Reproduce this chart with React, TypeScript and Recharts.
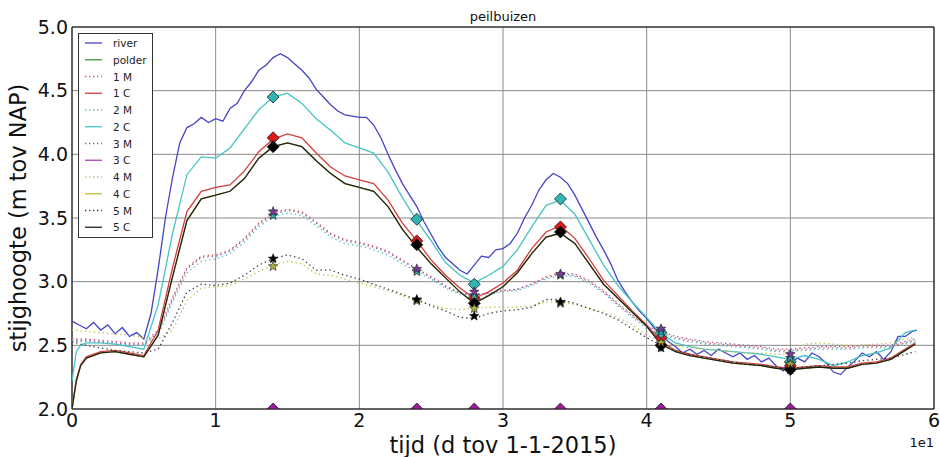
import React from 'react';
import { ComposedChart, Line, Scatter, XAxis, YAxis, CartesianGrid, ReferenceArea } from 'recharts';

// time axis (days since 1-1-2015) for the smooth series
const days = [
  0, 0.3, 0.6, 1, 2, 3, 4, 5, 6, 7,
  8, 9, 10, 11, 12, 13, 14, 15, 16, 17,
  18, 19, 20, 21, 22, 23, 24, 25, 26, 27,
  28, 29, 30, 31, 32, 33, 34, 35, 36, 37,
  38, 39, 40, 41, 42, 43, 44, 45, 46, 47,
  48, 49, 50, 51, 52, 53, 54, 55, 56, 57,
  58, 58.7,
];

// river is noisy, sampled every half day
const riverDays = [
  0, 0.5, 1, 1.5, 2, 2.5, 3, 3.5, 4, 4.5,
  5, 5.5, 6, 6.5, 7, 7.5, 8, 8.5, 9, 9.5,
  10, 10.5, 11, 11.5, 12, 12.5, 13, 13.5, 14, 14.5,
  15, 15.5, 16, 16.5, 17, 17.5, 18, 18.5, 19, 19.5,
  20, 20.5, 21, 21.5, 22, 22.5, 23, 23.5, 24, 24.5,
  25, 25.5, 26, 26.5, 27, 27.5, 28, 28.5, 29, 29.5,
  30, 30.5, 31, 31.5, 32, 32.5, 33, 33.5, 34, 34.5,
  35, 35.5, 36, 36.5, 37, 37.5, 38, 38.5, 39, 39.5,
  40, 40.5, 41, 41.5, 42, 42.5, 43, 43.5, 44, 44.5,
  45, 45.5, 46, 46.5, 47, 47.5, 48, 48.5, 49, 49.5,
  50, 50.5, 51, 51.5, 52, 52.5, 53, 53.5, 54, 54.5,
  55, 55.5, 56, 56.5, 57, 57.5, 58, 58.5, 58.8,
];

const river = [
  2.69, 2.66, 2.63, 2.68, 2.62, 2.66, 2.59, 2.64, 2.57, 2.6,
  2.55, 2.75, 3.1, 3.5, 3.82, 4.09, 4.21, 4.24, 4.29, 4.25,
  4.28, 4.26, 4.36, 4.4, 4.5, 4.57, 4.66, 4.7, 4.76, 4.79,
  4.76, 4.71, 4.66, 4.6, 4.51, 4.45, 4.39, 4.34, 4.31, 4.3,
  4.29, 4.29, 4.23, 4.13, 4.0, 3.88, 3.77, 3.68, 3.59, 3.47,
  3.37, 3.27, 3.19, 3.14, 3.09, 3.06, 3.13, 3.2, 3.19, 3.25,
  3.26, 3.3, 3.38, 3.5, 3.6, 3.72, 3.8, 3.85, 3.82, 3.77,
  3.68, 3.57, 3.46, 3.35, 3.25, 3.14, 3.01, 2.92, 2.84, 2.77,
  2.71, 2.64, 2.59, 2.53, 2.49, 2.44, 2.47, 2.43, 2.46, 2.42,
  2.47, 2.44, 2.41, 2.44, 2.39, 2.42, 2.37, 2.4, 2.34, 2.3,
  2.36, 2.4, 2.37, 2.44, 2.41, 2.36, 2.29, 2.27, 2.33, 2.38,
  2.44, 2.41, 2.45, 2.39, 2.45, 2.57, 2.57, 2.61, 2.62,
];

const c1 = [
  2.0, 2.23, 2.35, 2.41, 2.45, 2.46, 2.44, 2.42, 2.62, 3.11,
  3.55, 3.71, 3.74, 3.76, 3.87, 4.02, 4.12, 4.16, 4.13, 4.01,
  3.9, 3.83, 3.8, 3.77, 3.64, 3.46, 3.32, 3.17, 3.05, 2.95,
  2.87, 2.92, 2.99, 3.09, 3.26, 3.39, 3.44, 3.34, 3.18, 3.01,
  2.89, 2.77, 2.66, 2.53, 2.46, 2.43, 2.41, 2.39, 2.37, 2.36,
  2.35, 2.33, 2.32, 2.33, 2.34, 2.33, 2.33, 2.36, 2.37, 2.4,
  2.47, 2.52,
];

const c2 = [
  2.22, 2.45, 2.5, 2.52, 2.52, 2.51, 2.49, 2.47, 2.82, 3.38,
  3.84, 3.98, 3.97, 4.05, 4.2, 4.35, 4.45, 4.48, 4.4, 4.28,
  4.19, 4.09, 4.05, 4.01, 3.86, 3.66, 3.48, 3.32, 3.15, 3.05,
  2.99, 3.05, 3.12, 3.25, 3.43, 3.6, 3.64, 3.53, 3.33, 3.13,
  2.97, 2.84, 2.72, 2.59, 2.52, 2.49, 2.47, 2.46, 2.45, 2.44,
  2.43, 2.41, 2.39, 2.42, 2.39, 2.34, 2.37, 2.42, 2.44, 2.48,
  2.6, 2.62,
];

const c5 = [
  2.0, 2.22, 2.34, 2.4, 2.44, 2.45, 2.43, 2.41, 2.58, 3.04,
  3.48, 3.65, 3.68, 3.71, 3.81, 3.97, 4.06, 4.09, 4.06, 3.95,
  3.85, 3.77, 3.74, 3.71, 3.59, 3.41, 3.27, 3.14, 3.03, 2.92,
  2.83, 2.89, 2.96, 3.07, 3.22, 3.35, 3.38, 3.3, 3.14, 2.98,
  2.87, 2.76, 2.65, 2.51, 2.45, 2.42, 2.4, 2.38, 2.36, 2.35,
  2.34, 2.32, 2.31, 2.32, 2.33, 2.32, 2.32, 2.35, 2.36, 2.39,
  2.46, 2.51,
];

// 4 C runs under 5 C in the picture
const c4 = c5;

const m1 = [
  2.56, 2.55, 2.55, 2.55, 2.54, 2.53, 2.52, 2.52, 2.62, 2.88,
  3.11, 3.2, 3.21, 3.25, 3.34, 3.46, 3.54, 3.57, 3.55, 3.47,
  3.38, 3.33, 3.31, 3.28, 3.24, 3.17, 3.1, 3.04, 2.97, 2.91,
  2.89, 2.91, 2.93, 2.94, 2.98, 3.04, 3.07, 3.06, 3.01, 2.93,
  2.83, 2.74, 2.65, 2.6, 2.56, 2.54, 2.52, 2.51, 2.5, 2.49,
  2.48, 2.46, 2.46, 2.47, 2.48, 2.48, 2.48, 2.49, 2.49, 2.49,
  2.52, 2.54,
];

const m2 = [
  2.54, 2.53, 2.53, 2.53, 2.52, 2.51, 2.5, 2.5, 2.58, 2.84,
  3.07, 3.16, 3.18, 3.22, 3.31, 3.43, 3.51, 3.54, 3.52, 3.44,
  3.35, 3.3, 3.28, 3.25, 3.21, 3.14, 3.08, 3.02, 2.95, 2.9,
  2.88, 2.9, 2.92, 2.93, 2.97, 3.02, 3.05, 3.04, 2.99, 2.91,
  2.81, 2.72, 2.63, 2.59, 2.55, 2.53, 2.51, 2.5, 2.49, 2.48,
  2.47, 2.45, 2.45, 2.46, 2.47, 2.47, 2.47, 2.48, 2.48, 2.48,
  2.51, 2.53,
];

const m3 = [
  2.55, 2.54, 2.54, 2.54, 2.53, 2.52, 2.51, 2.51, 2.6, 2.86,
  3.1, 3.19, 3.2, 3.24, 3.33, 3.45, 3.53, 3.56, 3.54, 3.46,
  3.37, 3.32, 3.3, 3.27, 3.23, 3.16, 3.1, 3.03, 2.96, 2.91,
  2.9, 2.91, 2.93, 2.94, 2.98, 3.03, 3.06, 3.05, 3.0, 2.92,
  2.82, 2.73, 2.65, 2.61, 2.57, 2.55, 2.53, 2.52, 2.51, 2.5,
  2.49, 2.47, 2.47, 2.48, 2.49, 2.49, 2.49, 2.5, 2.5, 2.5,
  2.53, 2.55,
];

const m4 = [
  2.62, 2.62, 2.61, 2.61, 2.6, 2.59, 2.58, 2.56, 2.55, 2.62,
  2.85, 2.95, 2.96, 2.97, 3.02, 3.08, 3.13, 3.16, 3.14, 3.06,
  3.05, 3.02, 2.99, 2.96, 2.93, 2.89, 2.85, 2.82, 2.79, 2.78,
  2.79, 2.8, 2.8, 2.8, 2.81, 2.84, 2.84, 2.82, 2.79, 2.76,
  2.72, 2.66, 2.58, 2.53, 2.5, 2.48, 2.47, 2.46, 2.45, 2.44,
  2.44, 2.43, 2.43, 2.51, 2.52, 2.51, 2.5, 2.5, 2.51, 2.52,
  2.55, 2.56,
];

const m5 = [
  2.53, 2.52, 2.51, 2.5, 2.48, 2.46, 2.45, 2.44, 2.47, 2.68,
  2.92, 2.98, 2.97, 2.99, 3.05, 3.13, 3.18, 3.21, 3.18, 3.09,
  3.09, 3.05, 3.02, 2.98, 2.94, 2.9, 2.86, 2.81, 2.77, 2.72,
  2.71, 2.75, 2.77, 2.78, 2.8, 2.86, 2.86, 2.83, 2.79, 2.75,
  2.7, 2.63, 2.56, 2.5, 2.46, 2.43, 2.41, 2.39, 2.37, 2.35,
  2.34, 2.33, 2.32, 2.33, 2.34, 2.35, 2.36, 2.38, 2.39, 2.4,
  2.43, 2.45,
];

// measurements (piezometer readings)
const measDays = [14, 24, 28, 34, 41, 50];
const meas1C = [4.13, 3.32, 2.87, 3.43, 2.56, 2.34];
const meas2C = [4.45, 3.49, 2.98, 3.65, 2.6, 2.37];
const meas3C = [2.0, 2.0, 2.0, 2.0, 2.0, 2.0];
const meas5C = [4.06, 3.29, 2.83, 3.39, 2.5, 2.31];
const meas2M = [3.52, 3.08, 2.89, 3.05, 2.61, 2.4];
const meas3M = [3.55, 3.1, 2.92, 3.06, 2.63, 2.43];
const meas4M = [3.12, 2.85, 2.79, 2.83, 2.52, 2.35];
const meas5M = [3.18, 2.86, 2.73, 2.84, 2.48, 2.31];

const xTicks = [0, 10, 20, 30, 40, 50, 60];
const yTicks = [2.0, 2.5, 3.0, 3.5, 4.0, 4.5, 5.0];

const legendItems = [
  { name: 'river', color: '#4444c6', dotted: false },
  { name: 'polder', color: '#3c9c3c', dotted: false },
  { name: '1 M', color: '#d46060', dotted: true },
  { name: '1 C', color: '#d43c3c', dotted: false },
  { name: '2 M', color: '#50c0c0', dotted: true },
  { name: '2 C', color: '#46c4c4', dotted: false },
  { name: '3 M', color: '#9a5aaa', dotted: true },
  { name: '3 C', color: '#b040b0', dotted: false },
  { name: '4 M', color: '#c8c050', dotted: true },
  { name: '4 C', color: '#c0c030', dotted: false },
  { name: '5 M', color: '#404040', dotted: true },
  { name: '5 C', color: '#202020', dotted: false },
];

const pts = (xs: number[], ys: number[]) => xs.map((x, i) => ({ x, y: ys[i] }));

const diamond = (fill: string) => (props: any) => {
  const { cx, cy } = props;
  const r = 6;
  return <path d={`M${cx},${cy - r}L${cx + r},${cy}L${cx},${cy + r}L${cx - r},${cy}Z`} fill={fill} stroke="#1a1a1a" strokeWidth={0.8} />;
};

// sits on the bottom spine, so only the upper half shows
const halfDiamond = (fill: string) => (props: any) => {
  const { cx, cy } = props;
  const r = 6;
  return <path d={`M${cx},${cy - r}L${cx + r},${cy}L${cx - r},${cy}Z`} fill={fill} stroke="#1a1a1a" strokeWidth={0.8} />;
};

const star = (fill: string) => (props: any) => {
  const { cx, cy } = props;
  let d = '';
  for (let i = 0; i < 10; i++) {
    const r = i % 2 === 0 ? 5 : 2.2;
    const a = -Math.PI / 2 + (i * Math.PI) / 5;
    d += `${i === 0 ? 'M' : 'L'}${cx + r * Math.cos(a)},${cy + r * Math.sin(a)}`;
  }
  return <path d={d + 'Z'} fill={fill} stroke="#1a1a1a" strokeWidth={0.6} />;
};

const font = 'DejaVu Sans, sans-serif';
const dots = '1.4 3';

const App: React.FC = () => {
  return (
    <div style={{ position: 'absolute', left: 0, top: 0, width: 940, height: 457, background: '#fff' }}>
      <ComposedChart width={940} height={457} margin={{ top: 27, right: 6, bottom: 18, left: 0 }}>
        <CartesianGrid stroke="#8a8a8a" strokeWidth={1} />
        <XAxis
          dataKey="x"
          type="number"
          domain={[0, 60]}
          ticks={xTicks}
          tickFormatter={(v: number) => String(v / 10)}
          tickLine={false}
          axisLine={false}
          height={30}
          tickSize={4}
          tickMargin={1}
          tick={{ fontSize: 19, fill: '#111', fontFamily: font }}
          allowDataOverflow
        />
        <YAxis
          dataKey="y"
          type="number"
          domain={[2, 5]}
          ticks={yTicks}
          tickFormatter={(v: number) => v.toFixed(1)}
          tickLine={false}
          axisLine={false}
          width={72}
          tickSize={2}
          tickMargin={2}
          tick={{ fontSize: 19, fill: '#111', fontFamily: font }}
          allowDataOverflow
        />
        <Line data={pts(riverDays, river)} dataKey="y" stroke="#4444c6" strokeWidth={1.3} dot={false} isAnimationActive={false} />
        <Line data={pts(days, m1)} dataKey="y" stroke="#d46060" strokeWidth={1.3} strokeDasharray={dots} dot={false} isAnimationActive={false} />
        <Line data={pts(days, c1)} dataKey="y" stroke="#d43c3c" strokeWidth={1.3} dot={false} isAnimationActive={false} />
        <Line data={pts(days, m2)} dataKey="y" stroke="#50c0c0" strokeWidth={1.3} strokeDasharray={dots} dot={false} isAnimationActive={false} />
        <Line data={pts(days, c2)} dataKey="y" stroke="#46c4c4" strokeWidth={1.3} dot={false} isAnimationActive={false} />
        <Line data={pts(days, m3)} dataKey="y" stroke="#9a5aaa" strokeWidth={1.3} strokeDasharray={dots} dot={false} isAnimationActive={false} />
        <Line data={pts(days, m4)} dataKey="y" stroke="#c8c050" strokeWidth={1.3} strokeDasharray={dots} dot={false} isAnimationActive={false} />
        <Line data={pts(days, c4)} dataKey="y" stroke="#c0c030" strokeWidth={1.3} dot={false} isAnimationActive={false} />
        <Line data={pts(days, m5)} dataKey="y" stroke="#404040" strokeWidth={1.3} strokeDasharray={dots} dot={false} isAnimationActive={false} />
        <Line data={pts(days, c5)} dataKey="y" stroke="#202020" strokeWidth={1.3} dot={false} isAnimationActive={false} />
        <Scatter data={pts(measDays, meas1C)} dataKey="y" shape={diamond('#e01818')} isAnimationActive={false} />
        <Scatter data={pts(measDays, meas2C)} dataKey="y" shape={diamond('#30b4b4')} isAnimationActive={false} />
        <Scatter data={pts(measDays, meas3C)} dataKey="y" shape={halfDiamond('#9a1a9a')} isAnimationActive={false} />
        <Scatter data={pts(measDays, meas5C)} dataKey="y" shape={diamond('#000')} isAnimationActive={false} />
        <Scatter data={pts(measDays, meas2M)} dataKey="y" shape={star('#3aa6a6')} isAnimationActive={false} />
        <Scatter data={pts(measDays, meas3M)} dataKey="y" shape={star('#7a3a9a')} isAnimationActive={false} />
        <Scatter data={pts(measDays, meas4M)} dataKey="y" shape={star('#b0b040')} isAnimationActive={false} />
        <Scatter data={pts(measDays, meas5M)} dataKey="y" shape={star('#000')} isAnimationActive={false} />
        <ReferenceArea x1={0} x2={60} y1={2} y2={5} fill="none" stroke="#000" strokeWidth={1} ifOverflow="visible" />
      </ComposedChart>
      <svg width={940} height={457} style={{ position: 'absolute', left: 0, top: 0, pointerEvents: 'none' }}>
        <text x={503} y={21} textAnchor="middle" fontSize={13} fontFamily={font} fill="#111">peilbuizen</text>
        <text transform="translate(26,218) rotate(-90)" textAnchor="middle" fontSize={22.5} fontFamily={font} fill="#111">stijghoogte (m tov NAP)</text>
        <text x={503} y={453} textAnchor="middle" fontSize={22.5} fontFamily={font} fill="#111">tijd (d tov 1-1-2015)</text>
        <text x={934} y={447} textAnchor="end" fontSize={13} fontFamily={font} fill="#111">1e1</text>
        <rect x={78.5} y={33.5} width={74} height={204} fill="#fff" stroke="#333" strokeWidth={1} />
        {legendItems.map((it, i) => {
          const y = 43 + i * 16.75;
          return (
            <g key={it.name}>
              <line x1={85} x2={102} y1={y} y2={y} stroke={it.color} strokeWidth={1.3} strokeDasharray={it.dotted ? '1.4 2.6' : undefined} />
              <text x={113} y={y + 4} fontSize={10.5} fontFamily={font} fill="#222">{it.name}</text>
            </g>
          );
        })}
      </svg>
    </div>
  );
};

export default App;
